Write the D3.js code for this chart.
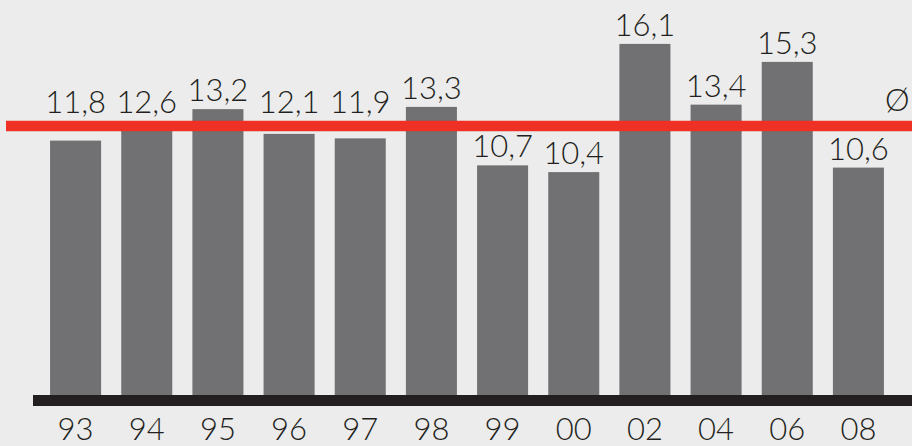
<!DOCTYPE html>
<html>
<head>
<meta charset="utf-8">
<script src="https://cdn.jsdelivr.net/npm/d3@7"></script>
<style>
  html, body { margin: 0; padding: 0; background: #ececec; }
  svg { display: block; }
  text { font-family: "Lato", "Open Sans", sans-serif; font-weight: 300; fill: #231f20; }
</style>
</head>
<body>
<svg id="chart"></svg>
<script>
const years = ["93", "94", "95", "96", "97", "98", "99", "00", "02", "04", "06", "08"];
const values = [11.8, 12.6, 13.2, 12.1, 11.9, 13.3, 10.7, 10.4, 16.1, 13.4, 15.3, 10.6];
const average = [12.45];
const averageLabel = ["Ø"];

const width = 912, height = 446;

const svg = d3.select("#chart")
    .attr("width", width)
    .attr("height", height);

svg.append("rect")
    .attr("width", width)
    .attr("height", height)
    .attr("fill", "#ececec");

const x = d3.scaleBand()
    .domain(years)
    .range([40, 894])
    .paddingInner(0.283)
    .paddingOuter(0.1415);

const y = d3.scaleLinear()
    .domain([0, 17])
    .range([406, 406 - 17 * 22.49]);

const fmt = v => d3.format(".1f")(v).replace(".", ",");

// bars
svg.selectAll(".bar")
    .data(values)
    .enter()
    .append("rect")
    .attr("class", "bar")
    .attr("x", (d, i) => x(years[i]))
    .attr("y", d => y(d))
    .attr("width", x.bandwidth())
    .attr("height", d => y(0) - y(d))
    .attr("fill", "#717073");

// average line
const lineW = 10.5;
const avgY = y(average[0]);
svg.append("line")
    .attr("x1", 6)
    .attr("x2", width)
    .attr("y1", avgY)
    .attr("y2", avgY)
    .attr("stroke", "#ee3124")
    .attr("stroke-width", lineW);

svg.append("text")
    .attr("x", 885)
    .attr("y", avgY - lineW / 2 - 10)
    .attr("font-size", 31)
    .text(averageLabel[0]);

// value labels; those close to the red line go above it
const lineTop = avgY - lineW / 2, lineBottom = avgY + lineW / 2;
svg.selectAll(".val")
    .data(values)
    .enter()
    .append("text")
    .attr("class", "val")
    .attr("x", (d, i) => x(years[i]) + x.bandwidth() / 2)
    .attr("y", d => {
        const top = y(d);
        if (top - lineBottom > 30) return top - 8;
        return Math.min(top, lineTop) - 8;
    })
    .attr("text-anchor", "middle")
    .attr("font-size", 31)
    .text(d => fmt(d));

// baseline
svg.append("rect")
    .attr("x", 33)
    .attr("y", 395)
    .attr("width", width - 33)
    .attr("height", 11)
    .attr("fill", "#231f20");

// x labels
const xAxis = svg.append("g")
    .attr("transform", "translate(0,406)")
    .call(d3.axisBottom(x).tickSize(0).tickPadding(0));
xAxis.select(".domain").remove();
xAxis.selectAll("text")
    .attr("dy", null)
    .attr("y", 34)
    .attr("font-size", 31)
    .attr("font-family", null)
    .style("fill", "#231f20");
</script>
</body>
</html>
